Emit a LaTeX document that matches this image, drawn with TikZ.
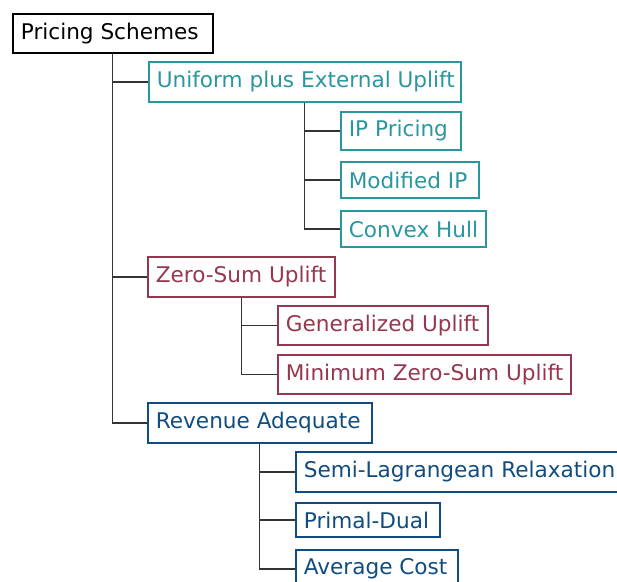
\documentclass[tikz,border=0pt]{standalone}
\usepackage{fontspec}
\setmainfont{DejaVu Sans}
\definecolor{cteal}{RGB}{42,150,158}
\definecolor{cred}{RGB}{150,55,78}
\definecolor{cblue}{RGB}{16,76,128}
\newcommand{\lbox}[2]{\makebox[#1][l]{#2}}
\tikzset{
  box/.style={draw=#1, text=#1, line width=1.7pt, anchor=west,
    inner xsep=8pt, inner ysep=0pt, font=\fontsize{21.6}{26}\selectfont},
  conn/.style={draw=black!80, line width=1.2pt}
}
\begin{document}
\begin{tikzpicture}[x=1pt,y=-1pt]
\useasboundingbox (0,0) rectangle (617,581);
\node[box=black, minimum height=39pt] (root) at (12,33.5) {\lbox{184pt}{Pricing Schemes}};
\node[box=cteal, minimum height=40pt] (u) at (148,82) {\lbox{296pt}{Uniform plus External Uplift}};
\node[box=cteal, minimum height=38pt] (ip) at (340,131) {\lbox{104pt}{IP Pricing}};
\node[box=cteal, minimum height=36pt] (mip) at (340,180) {\lbox{122pt}{Modified IP}};
\node[box=cteal, minimum height=36pt] (ch) at (340,229) {\lbox{129pt}{Convex Hull}};
\node[box=cred, minimum height=40pt] (zs) at (147,277) {\lbox{171pt}{Zero-Sum Uplift}};
\node[box=cred, minimum height=39pt] (gu) at (277,325.5) {\lbox{194pt}{Generalized Uplift}};
\node[box=cred, minimum height=39pt] (mzs) at (277,374.5) {\lbox{277pt}{Minimum Zero-Sum Uplift}};
\node[box=cblue, minimum height=40pt] (ra) at (147,423) {\lbox{208pt}{Revenue Adequate}};
\node[box=cblue, minimum height=40pt] (slr) at (295,472) {\lbox{324pt}{Semi-Lagrangean Relaxation}};
\node[box=cblue, minimum height=34pt] (pd) at (295,520) {\lbox{128pt}{Primal-Dual}};
\node[box=cblue, minimum height=38pt] (ac) at (295,569) {\lbox{146pt}{Average Cost}};
\draw[conn] (root.south) |- (u.west);
\draw[conn] (root.south) |- (zs.west);
\draw[conn] (root.south) |- (ra.west);
\draw[conn] (u.south) |- (ip.west);
\draw[conn] (u.south) |- (mip.west);
\draw[conn] (u.south) |- (ch.west);
\draw[conn] (zs.south) |- (gu.west);
\draw[conn] (zs.south) |- (mzs.west);
\draw[conn] (ra.south) |- (slr.west);
\draw[conn] (ra.south) |- (pd.west);
\draw[conn] (ra.south) |- (ac.west);
\end{tikzpicture}
\end{document}
